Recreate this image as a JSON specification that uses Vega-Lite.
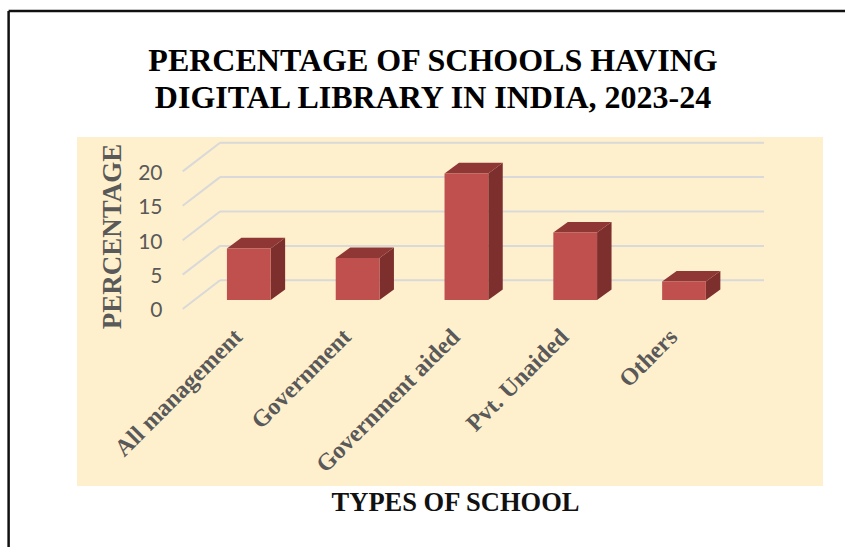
{
  "$schema": "https://vega.github.io/schema/vega-lite/v6.json",
  "width": 746,
  "height": 349,
  "padding": {"left": 77, "top": 137, "right": 22, "bottom": 61},
  "autosize": {"type": "none"},
  "background": "#ffffff",
  "view": {"fill": "#FFF0CD", "stroke": null},
  "title": {
    "text": ["PERCENTAGE OF SCHOOLS HAVING", "DIGITAL LIBRARY IN INDIA, 2023-24"],
    "font": "Liberation Serif",
    "fontWeight": "bold",
    "fontSize": 32,
    "lineHeight": 37,
    "color": "#000000",
    "anchor": "middle",
    "dx": -17,
    "offset": -105
  },
  "datasets": {
    "schools": [
      {"school": "All management", "percent": 7.5},
      {"school": "Government", "percent": 6.1},
      {"school": "Government aided", "percent": 18.4},
      {"school": "Pvt. Unaided", "percent": 9.8},
      {"school": "Others", "percent": 2.7}
    ],
    "ticks": [{"tick": 0}, {"tick": 5}, {"tick": 10}, {"tick": 15}, {"tick": 20}]
  },
  "layer": [
    {
      "description": "Page border, top edge",
      "data": {"values": [{"edge": "top"}]},
      "mark": {"type": "rule", "color": "#111111", "strokeWidth": 2.5, "clip": false},
      "encoding": {
        "x": {"datum": -1.6, "type": "quantitative", "scale": {"domain": [-0.9715, 5.885], "nice": false, "zero": false}},
        "x2": {"datum": 6.2},
        "y": {"datum": 43.3, "type": "quantitative", "scale": {"domain": [-25.73, 25], "nice": false, "zero": false}}
      }
    },
    {
      "description": "Page border, left edge",
      "data": {"values": [{"edge": "left"}]},
      "mark": {"type": "rule", "color": "#111111", "strokeWidth": 2.5, "clip": false},
      "encoding": {
        "x": {"datum": -1.6, "type": "quantitative", "scale": {"domain": [-0.9715, 5.885], "nice": false, "zero": false}},
        "y": {"datum": 43.3, "type": "quantitative", "scale": {"domain": [-25.73, 25], "nice": false, "zero": false}},
        "y2": {"datum": -36}
      }
    },
    {
      "description": "Back wall gridlines",
      "data": {"name": "ticks"},
      "transform": [{"calculate": "datum.tick + 4.17", "as": "wall"}],
      "mark": {"type": "rule", "color": "#D8D9D8", "strokeWidth": 2},
      "encoding": {
        "x": {"datum": 0.343, "type": "quantitative", "scale": {"domain": [-0.9715, 5.885], "nice": false, "zero": false}},
        "x2": {"datum": 5.343},
        "y": {"field": "wall", "type": "quantitative", "scale": {"domain": [-25.73, 25], "nice": false, "zero": false}}
      }
    },
    {
      "description": "Side wall gridlines running back from the front edge",
      "data": {"name": "ticks"},
      "transform": [{"calculate": "datum.tick + 4.17", "as": "wall"}],
      "mark": {"type": "rule", "color": "#D8D9D8", "strokeWidth": 2},
      "encoding": {
        "x": {"datum": 0, "type": "quantitative", "scale": {"domain": [-0.9715, 5.885], "nice": false, "zero": false}},
        "x2": {"datum": 0.343},
        "y": {"field": "tick", "type": "quantitative", "scale": {"domain": [-25.73, 25], "nice": false, "zero": false}},
        "y2": {"field": "wall"}
      }
    },
    {
      "description": "Right face of each bar",
      "data": {"name": "schools"},
      "transform": [
        {"window": [{"op": "row_number", "as": "rank"}]},
        {"calculate": "[0, 1]", "as": "depth"},
        {"flatten": ["depth"]},
        {"calculate": "datum.rank - 0.3925 + 0.201 + 0.133 * datum.depth", "as": "sx"},
        {"calculate": "1.31 + 1.53 * datum.depth", "as": "sb"},
        {"calculate": "datum.percent + datum.sb", "as": "st"}
      ],
      "mark": {"type": "area", "color": "#7C2F2D", "orient": "vertical"},
      "encoding": {
        "detail": {"field": "school"},
        "x": {"field": "sx", "type": "quantitative", "scale": {"domain": [-0.9715, 5.885], "nice": false, "zero": false}},
        "y": {"field": "st", "type": "quantitative", "stack": null, "scale": {"domain": [-25.73, 25], "nice": false, "zero": false}},
        "y2": {"field": "sb"}
      }
    },
    {
      "description": "Top face of each bar",
      "data": {"name": "schools"},
      "transform": [
        {"window": [{"op": "row_number", "as": "rank"}]},
        {"calculate": "[0, 1]", "as": "depth"},
        {"flatten": ["depth"]},
        {"calculate": "datum.rank - 0.3925 - 0.201 + 0.133 * datum.depth", "as": "tl"},
        {"calculate": "datum.rank - 0.3925 + 0.201 + 0.133 * datum.depth", "as": "tr"},
        {"calculate": "datum.percent + 1.31 + 1.53 * datum.depth", "as": "ty"}
      ],
      "mark": {"type": "area", "color": "#8E3735", "orient": "horizontal"},
      "encoding": {
        "detail": {"field": "school"},
        "y": {"field": "ty", "type": "quantitative", "scale": {"domain": [-25.73, 25], "nice": false, "zero": false}},
        "x": {"field": "tl", "type": "quantitative", "stack": null, "scale": {"domain": [-0.9715, 5.885], "nice": false, "zero": false}},
        "x2": {"field": "tr"}
      }
    },
    {
      "description": "Front face of each bar, carrying both axes",
      "data": {"name": "schools"},
      "transform": [
        {"window": [{"op": "row_number", "as": "rank"}]},
        {"calculate": "datum.rank - 0.3925 - 0.201", "as": "fl"},
        {"calculate": "datum.rank - 0.3925 + 0.201", "as": "fr"},
        {"calculate": "1.31", "as": "fb"},
        {"calculate": "datum.percent + 1.31", "as": "ft"}
      ],
      "mark": {"type": "rect", "color": "#C0504D"},
      "encoding": {
        "x": {
          "field": "fl",
          "type": "quantitative",
          "scale": {"domain": [-0.9715, 5.885], "nice": false, "zero": false},
          "axis": {
            "title": "TYPES OF SCHOOL",
            "titleFont": "Liberation Serif",
            "titleFontWeight": "bold",
            "titleFontSize": 26.5,
            "titleColor": "#111111",
            "titleX": 378,
            "titleY": 162,
            "values": [0.5, 1.5, 2.5, 3.5, 4.5],
            "labelExpr": "['All management', 'Government', 'Government aided', 'Pvt. Unaided', 'Others'][floor(datum.value)]",
            "offset": -159,
            "grid": false,
            "domain": false,
            "ticks": false,
            "labelAngle": -45,
            "labelAlign": "right",
            "labelBaseline": "middle",
            "labelPadding": 6,
            "labelOffset": 1,
            "labelFont": "Liberation Serif",
            "labelFontWeight": "bold",
            "labelFontSize": 24,
            "labelColor": "#595959",
            "labelOverlap": false,
            "labelBound": false,
            "labelFlush": false,
            "labelLimit": 400
          }
        },
        "x2": {"field": "fr"},
        "y": {
          "field": "ft",
          "type": "quantitative",
          "scale": {"domain": [-25.73, 25], "nice": false, "zero": false},
          "axis": {
            "title": "PERCENTAGE",
            "titleFont": "Liberation Serif",
            "titleFontWeight": "bold",
            "titleFontSize": 27,
            "titleColor": "#595959",
            "titleX": -36,
            "titleY": 99,
            "values": [0, 5, 10, 15, 20],
            "offset": -85,
            "grid": false,
            "domain": false,
            "ticks": false,
            "labelFont": "Lato",
            "labelFontSize": 21,
            "labelColor": "#595959",
            "labelPadding": 0,
            "labelOffset": 2
          }
        },
        "y2": {"field": "fb"}
      }
    }
  ]
}
